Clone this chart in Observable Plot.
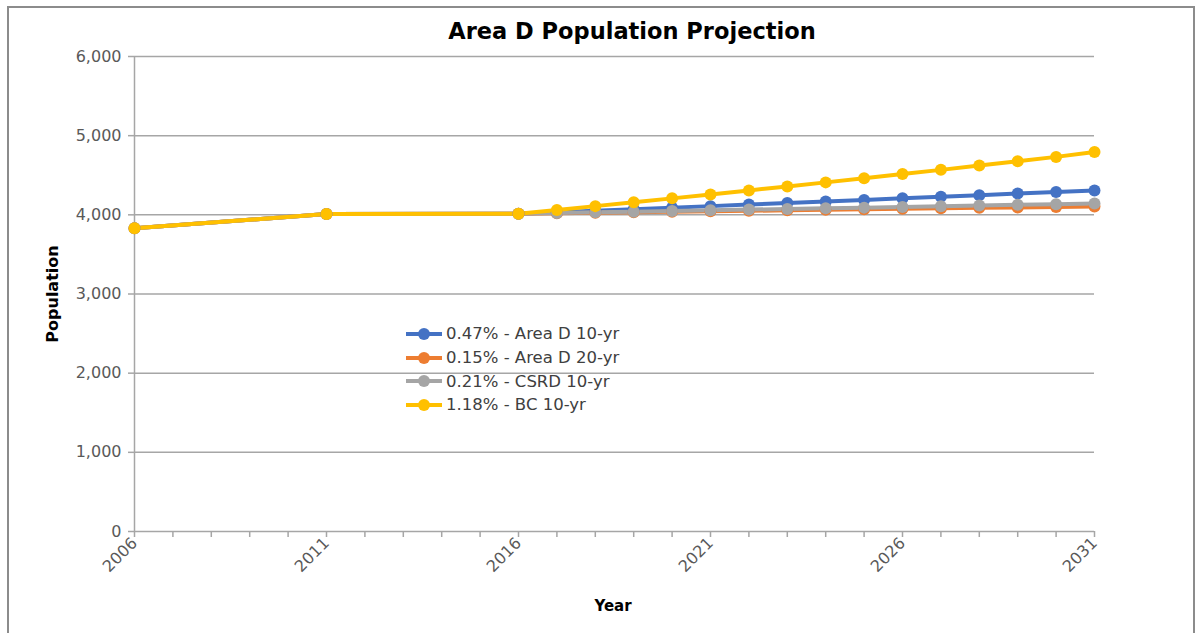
<!DOCTYPE html>
<html>
<head>
<meta charset="utf-8">
<script src="https://cdn.jsdelivr.net/npm/d3@7"></script>
<script src="https://cdn.jsdelivr.net/npm/@observablehq/plot@0.6"></script>
<style>
  html, body { margin: 0; padding: 0; background: #fff; }
  #wrap { position: relative; width: 1201px; height: 633px; overflow: hidden; font-family: "DejaVu Sans", sans-serif; }
  #border { position: absolute; left: 7px; top: 6px; width: 1188px; height: 640px; border: 2px solid #8c8c8c; box-sizing: border-box; }
  #chart { position: absolute; left: 0; top: 0; }
  .t { position: absolute; color: #000; white-space: nowrap; }
  #title { left: 0; width: 1264px; top: 18px; text-align: center; font-size: 22.5px; font-weight: 700; }
  #ylab { left: 52px; top: 294px; transform: translate(-50%, -50%) rotate(-90deg); font-size: 16px; font-weight: 700; }
  #xlab { left: 613px; top: 606px; transform: translate(-50%, -50%); font-size: 15px; font-weight: 700; }
  #legend { position: absolute; left: 406px; top: 322px; font-size: 16.5px; color: #404040; }
  .li { display: flex; align-items: center; height: 23.7px; }
  .sw { position: relative; width: 36px; height: 12px; margin-right: 4px; }
  .sw .ln { position: absolute; left: 0; top: 4px; width: 36px; height: 4px; }
  .sw .dt { position: absolute; left: 12px; top: 0; width: 12px; height: 12px; border-radius: 50%; }
</style>
</head>
<body>
<div id="wrap">
  <div id="border"></div>
  <div id="chart"></div>
  <div class="t" id="title">Area D Population Projection</div>
  <div class="t" id="ylab">Population</div>
  <div class="t" id="xlab">Year</div>
  <div id="legend"></div>
</div>
<script>
// Years with data points
const years = [2006, 2011, 2016, 2017, 2018, 2019, 2020, 2021, 2022, 2023, 2024, 2025, 2026, 2027, 2028, 2029, 2030, 2031];
const seriesNames = ["0.47% - Area D 10-yr", "0.15% - Area D 20-yr", "0.21% - CSRD 10-yr", "1.18% - BC 10-yr"];
const seriesColors = ["#4472C4", "#ED7D31", "#A5A5A5", "#FFC000"];
const areaD10 = [3830, 4010, 4015, 4034, 4053, 4072, 4091, 4110, 4130, 4149, 4169, 4188, 4208, 4228, 4248, 4268, 4288, 4308];
const areaD20 = [3830, 4010, 4015, 4021, 4027, 4033, 4039, 4045, 4051, 4057, 4064, 4070, 4076, 4082, 4088, 4094, 4100, 4106];
const csrd10  = [3830, 4010, 4015, 4023, 4032, 4040, 4049, 4057, 4066, 4074, 4083, 4091, 4100, 4108, 4117, 4126, 4134, 4143];
const bc10    = [3830, 4010, 4015, 4062, 4110, 4159, 4208, 4258, 4308, 4359, 4410, 4462, 4515, 4568, 4622, 4677, 4732, 4795];
const yTicks = [0, 1000, 2000, 3000, 4000, 5000, 6000];
const xLabelTicks = [2006, 2011, 2016, 2021, 2026, 2031];
const xMinorTicks = d3.range(2006, 2032);

const seriesValues = [areaD10, areaD20, csrd10, bc10];
const data = [];
seriesNames.forEach((name, i) => {
  years.forEach((yr, j) => data.push({series: name, year: yr, value: seriesValues[i][j]}));
});

const axisColor = "#a6a6a6";
const textColor = "#595959";

const plot = Plot.plot({
  width: 1201,
  height: 633,
  marginLeft: 134,
  marginRight: 107,
  marginTop: 56,
  marginBottom: 102,
  style: { fontFamily: '"DejaVu Sans", sans-serif', fontSize: "15px", background: "transparent", overflow: "visible" },
  x: { domain: [2006, 2031] },
  y: { domain: [0, 6000] },
  color: { domain: seriesNames, range: seriesColors },
  marks: [
    Plot.gridY(yTicks, { stroke: axisColor, strokeOpacity: 1, strokeWidth: 1.5 }),
    Plot.ruleX([2006], { stroke: axisColor, strokeWidth: 1.5 }),
    Plot.axisY(yTicks, { tickSize: 6, tickPadding: 7, tickFormat: d3.format(","), stroke: axisColor, strokeWidth: 1.5, fill: textColor, fontSize: 16, label: null }),
    Plot.axisX(xMinorTicks, { tickSize: 6, tickFormat: () => "", stroke: axisColor, strokeWidth: 1.5, label: null }),
    Plot.axisX(xLabelTicks, { tickSize: 0, tickPadding: 9, tickRotate: -45, tickFormat: d => String(d), fill: textColor, fontSize: 16, label: null }),
    Plot.line(data, { x: "year", y: "value", z: "series", stroke: "series", strokeWidth: 4 }),
    Plot.dot(data, { x: "year", y: "value", fill: "series", r: 6, stroke: null })
  ]
});
document.getElementById("chart").appendChild(plot);

const leg = document.getElementById("legend");
seriesNames.forEach((name, i) => {
  const row = document.createElement("div");
  row.className = "li";
  row.innerHTML = `<div class="sw"><div class="ln" style="background:${seriesColors[i]}"></div><div class="dt" style="background:${seriesColors[i]}"></div></div><span>${name}</span>`;
  leg.appendChild(row);
});
</script>
</body>
</html>
